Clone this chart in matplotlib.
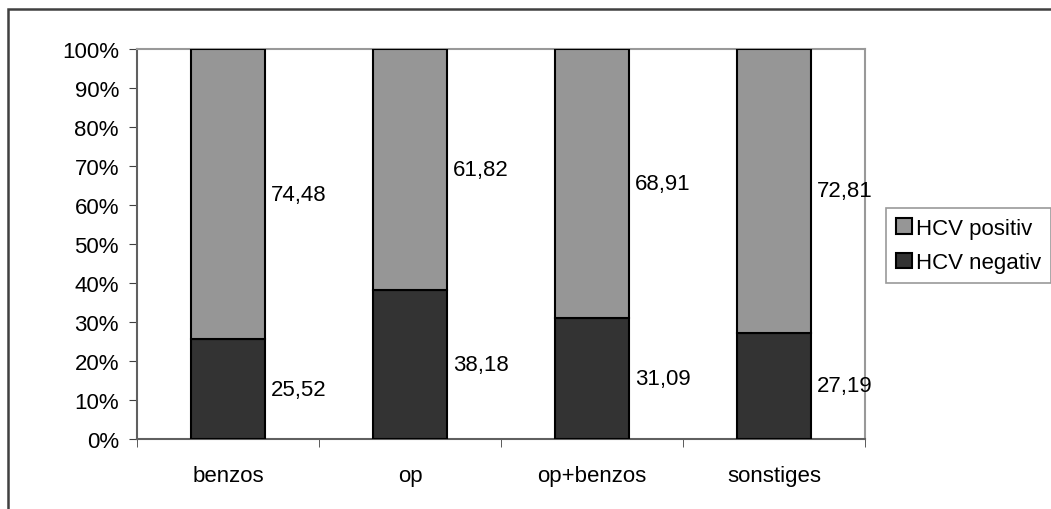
import matplotlib.pyplot as plt
from matplotlib.patches import Rectangle

plt.rcParams['font.family'] = ['Liberation Sans', 'DejaVu Sans']

categories = ['benzos', 'op', 'op+benzos', 'sonstiges']
hcv_negativ = [25.52, 38.18, 31.09, 27.19]
hcv_positiv = [74.48, 61.82, 68.91, 72.81]
label_negativ = ['25,52', '38,18', '31,09', '27,19']
label_positiv = ['74,48', '61,82', '68,91', '72,81']

W, H = 1051, 510
fig = plt.figure(figsize=(W / 100, H / 100), dpi=100)
ax = fig.add_axes([137 / W, 1 - 440 / H, (865 - 137) / W, (440 - 50) / H])

x = list(range(len(categories)))
bw = 0.41
ax.bar(x, hcv_negativ, bw, color='#333333', edgecolor='black', linewidth=1.5,
       label='HCV negativ', zorder=3)
ax.bar(x, hcv_positiv, bw, bottom=hcv_negativ, color='#969696', edgecolor='black',
       linewidth=1.5, label='HCV positiv', zorder=3)

# value labels right of each segment
for i in x:
    ax.text(i + bw / 2 + 0.03, hcv_negativ[i] / 2, label_negativ[i], fontsize=16,
            va='center', ha='left')
    ax.text(i + bw / 2 + 0.03, hcv_negativ[i] + hcv_positiv[i] / 2, label_positiv[i],
            fontsize=16, va='center', ha='left')

ax.set_xlim(-0.5, len(categories) - 0.5)
ax.set_ylim(0, 100)
ax.set_yticks(range(0, 101, 10))
ax.set_yticklabels([f'{v}%' for v in range(0, 101, 10)], fontsize=16)
ax.set_xticks(x)
ax.set_xticklabels(categories, fontsize=16)
ax.set_xticks([i - 0.5 for i in range(len(categories) + 1)], minor=True)
ax.tick_params(axis='x', which='major', length=0, pad=19)
ax.tick_params(axis='x', which='minor', length=6, color='#404040')
ax.tick_params(axis='y', length=6, color='#404040', pad=7)

for s in ['left', 'bottom']:
    ax.spines[s].set_color('#606060')
    ax.spines[s].set_linewidth(1.5)
for s in ['top', 'right']:
    ax.spines[s].set_color('#999999')
    ax.spines[s].set_linewidth(1.5)

handles, labels = ax.get_legend_handles_labels()
leg = fig.legend(handles[::-1], labels[::-1], loc='upper left',
                 bbox_to_anchor=(886 / W, 1 - 209 / H), fontsize=16,
                 frameon=True, fancybox=False, handlelength=0.7, handleheight=0.7,
                 handletextpad=0.2, borderpad=0.45, labelspacing=0.6, borderaxespad=0)
leg.get_frame().set_edgecolor('#808080')
leg.get_frame().set_linewidth(1.2)

# outer chart border (only top and left visible)
fig.patches.append(Rectangle((8 / W, -0.1), 1.2, 1 - 10 / H + 0.1, transform=fig.transFigure,
                             fill=False, edgecolor='#404040', linewidth=1.8))

fig.savefig('out.png', dpi=100)
